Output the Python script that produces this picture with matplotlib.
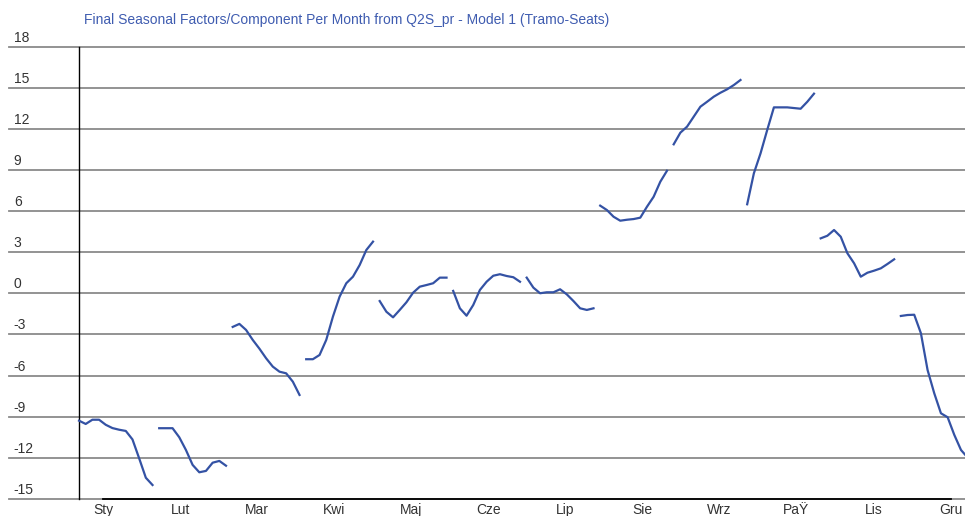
import matplotlib
matplotlib.use('Agg')
import matplotlib.pyplot as plt
import numpy as np

# month labels (as exported, incl. the broken "Paź")
months = ['Sty', 'Lut', 'Mar', 'Kwi', 'Maj', 'Cze', 'Lip', 'Sie', 'Wrz', 'PaŸ', 'Lis', 'Gru']

# seasonal factors per month, one value per year
sty = [-9.30, -9.54, -9.23, -9.23, -9.60, -9.84, -9.96, -10.05, -10.67, -12.05, -13.47, -14.0]
lut = [-9.85, -9.85, -9.85, -10.51, -11.44, -12.53, -13.07, -12.97, -12.37, -12.24, -12.59]
mar = [-2.45, -2.23, -2.67, -3.40, -4.04, -4.74, -5.35, -5.72, -5.84, -6.45, -7.42]
kwi = [-4.81, -4.81, -4.50, -3.40, -1.70, -0.24, 0.74, 1.22, 2.07, 3.17, 3.78]
maj = [-0.56, -1.34, -1.75, -1.21, -0.65, 0.05, 0.49, 0.61, 0.74, 1.15, 1.15]
cze = [0.18, -1.09, -1.63, -0.85, 0.25, 0.85, 1.29, 1.40, 1.27, 1.18, 0.85]
lip = [1.15, 0.42, 0.01, 0.08, 0.08, 0.30, -0.07, -0.56, -1.09, -1.21, -1.09]
sie = [6.41, 6.09, 5.60, 5.31, 5.38, 5.43, 5.53, 6.33, 7.06, 8.16, 8.96]
wrz = [10.89, 11.74, 12.18, 12.91, 13.64, 14.00, 14.37, 14.66, 14.91, 15.22, 15.59]
paz = [6.51, 8.77, 10.23, 11.94, 13.59, 13.59, 13.59, 13.54, 13.49, 14.00, 14.59]
lis = [4.02, 4.21, 4.63, 4.14, 2.93, 2.20, 1.22, 1.51, 1.66, 1.83, 2.15, 2.49]
gru = [-1.65, -1.58, -1.56, -2.91, -5.60, -7.30, -8.76, -9.05, -10.34, -11.44, -12.0]

series = [sty, lut, mar, kwi, maj, cze, lip, sie, wrz, paz, lis, gru]
yticks = list(range(-15, 19, 3))

title = 'Final Seasonal Factors/Component Per Month from Q2S_pr - Model 1 (Tramo-Seats)'

plt.rcParams['font.family'] = ['Liberation Sans', 'DejaVu Sans']

fig = plt.figure(figsize=(9.65, 5.16), dpi=100)
ax = fig.add_axes([9 / 965, 17.3 / 516, 956 / 965, 451.7 / 516])

pos = 0
for vals in series:
    x = np.arange(pos, pos + len(vals))
    ax.plot(x, vals, color='#3452a4', lw=1.6, zorder=3)
    pos += len(vals)

ax.set_xlim(-10.48, 132.6)
ax.set_ylim(-15, 18)

for s in ax.spines.values():
    s.set_visible(False)

# horizontal grid, running under the value labels
for v in yticks:
    ax.axhline(v, color='#8a8a8a', lw=1.3, zorder=1, clip_on=False)
    ax.annotate(str(v), xy=(0.005, v), xycoords=('axes fraction', 'data'),
                xytext=(0, 3.6), textcoords='offset points',
                ha='left', va='baseline', fontsize=10, color='#333333')

# vertical axis at the first point
ax.plot([0, 0], [-15, 18], color='black', lw=1, zorder=2, clip_on=False)

# month labels, evenly spread
label_pos = 3.6 + 11.53 * np.arange(len(months))
ax.plot([label_pos[0], label_pos[-1]], [-15, -15], color='black', lw=1.3,
        zorder=2, clip_on=False)
ax.set_xticks(label_pos, months)
ax.set_yticks([])
ax.tick_params(axis='x', length=0, pad=3, labelsize=10, labelcolor='#333333')

fig.text(84 / 965, 1 - 20 / 516, title, ha='left', va='center',
         fontsize=10, color='#3f5cb0')

fig.savefig('out.png', dpi=100)
